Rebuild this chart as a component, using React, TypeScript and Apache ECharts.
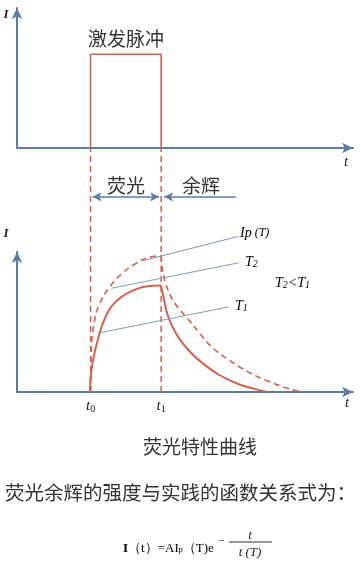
import React, { useEffect, useRef } from 'react';
import * as echarts from 'echarts';

const T0 = 21.9;
const T1 = 42.9;
const pulseX = [T0, T0, T1, T1];
const pulseY = [0, 67, 67, 0];
const solidRiseX = [21.7, 22.1, 23.1, 24.6, 26.0, 28.0, 31.0, 34.9, 38.8, 42.9];
const solidRiseY = [0, 14.2, 28.2, 42.2, 51.7, 60.8, 67.8, 72.9, 75.5, 76.0];
const solidDecayX = [42.9, 43.2, 43.8, 44.7, 46.2, 48.2, 51.2, 55.0, 60.0, 66.0, 71.9, 74.6];
const solidDecayY = [76, 72, 65.7, 56, 47, 38.5, 29.5, 21, 12.5, 5.5, 1.5, 0];
const dashRiseX = [21.9, 22.0, 22.2, 23.1, 24.6, 27.5, 31.0, 34.9, 38.8, 42.9];
const dashRiseY = [0, 20, 35, 51.5, 63.1, 74.8, 84.1, 91.1, 95.8, 97.5];
const dashDecayX = [42.9, 43.3, 44.2, 45.8, 48.0, 50.6, 54.0, 58.0, 63.0, 69.0, 75.0, 80.0, 84.6];
const dashDecayY = [97.5, 88, 78, 68, 60, 53, 43, 32, 23, 14, 7.5, 3, 0];
// leader lines [x1, y1, x2, y2] in bottom-chart data units
const leaderIp = [37.3, 93.7, 66.0, 111.2];
const leaderT2 = [28.1, 74.1, 66.0, 92.3];
const leaderT1 = [24.0, 42.0, 63.0, 60.8];
// arrows in guide-grid units
const arrowY = 0.8;
const fluoArrow = [22.5, 42.3];
const afterArrow = [65.1, 43.8];
const tickLabels = ['0', '1'];

const zip = (xs: number[], ys: number[]) => xs.map((x, i) => [x, ys[i]]);

const RED = '#d0634f';
const AXIS = '#5b7ca3';
const LEAD = '#8199b6';
const serif = "'Liberation Serif', 'DejaVu Serif', serif";
const cjk = "'Noto Sans CJK SC', sans-serif";

export default function App() {
  const ref = useRef<HTMLDivElement>(null);
  useEffect(() => {
    if (!ref.current) return;
    const chart = echarts.init(ref.current, undefined, { renderer: 'svg' });
    const axisLine = {
      show: true,
      symbol: ['none', 'arrow'],
      symbolSize: [8, 11],
      lineStyle: { color: AXIS, width: 2 },
    };
    const plainX = (gi: number, extra: any = {}) => ({
      type: 'value', gridIndex: gi, min: 0, max: 100,
      axisLine, axisTick: { show: false }, axisLabel: { show: false },
      splitLine: { show: false }, ...extra,
    });
    const plainY = (gi: number, max = 100) => ({
      type: 'value', gridIndex: gi, min: 0, max,
      axisLine, axisTick: { show: false }, axisLabel: { show: false },
      splitLine: { show: false },
    });
    const hidden = (gi: number, max: number) => ({
      type: 'value', gridIndex: gi, min: 0, max, show: false,
    });
    const line = (gi: number, data: number[][], color: string, width: number, dashed = false, extra: any = {}) => ({
      type: 'line', xAxisIndex: gi, yAxisIndex: gi, data,
      showSymbol: false, silent: true, clip: false,
      lineStyle: { color, width, type: dashed ? [6, 4] : 'solid' },
      ...extra,
    });
    const arrowSeries = (from: number, to: number, symbol: string[]) => ({
      type: 'line', xAxisIndex: 2, yAxisIndex: 2, data: [], silent: true,
      markLine: {
        silent: true, symbol, symbolSize: [7, 9],
        label: { show: false },
        lineStyle: { color: AXIS, width: 1.5, type: 'solid' },
        emphasis: { disabled: true },
        data: [[{ coord: [from, arrowY] }, { coord: [to, arrowY] }]],
      },
    });
    const txt = (x: number, y: number, text: string, font: string, align = 'center', fill = '#333') => ({
      type: 'text', x, y, silent: true,
      style: { text, font, fill, textAlign: align, textVerticalAlign: 'middle' },
    });
    const rich = {
      a: { fontFamily: serif, fontStyle: 'italic', fontSize: 14, color: '#222' },
      b: { fontFamily: serif, fontStyle: 'italic', fontSize: 10, color: '#222', padding: [5, 0, 0, 0] },
      c: { fontFamily: serif, fontStyle: 'italic', fontSize: 12, color: '#222' },
      r: { fontFamily: serif, fontSize: 13, color: '#222' },
      B: { fontFamily: serif, fontSize: 13, fontWeight: 'bold', color: '#222' },
      s: { fontFamily: serif, fontSize: 8, color: '#222', padding: [5, 0, 0, 0] },
    };
    const rtxt = (x: number, y: number, text: string, align = 'left') => ({
      type: 'text', x, y, silent: true,
      style: { text, rich, textAlign: align, textVerticalAlign: 'middle' },
    });
    const smooth = { smooth: 0.4 };

    chart.setOption({
      animation: false,
      grid: [
        { left: 17, right: 8, top: 8, height: 140 },
        { left: 17, right: 8, top: 252, height: 140 },
        { left: 17, right: 8, top: 148, height: 244 },
      ],
      xAxis: [
        plainX(0),
        plainX(1, {
          axisLabel: {
            show: true,
            customValues: [T0, T1],
            margin: 4,
            formatter: (v: number) => `{t|t}{s|${Math.abs(v - T0) < 0.01 ? tickLabels[0] : tickLabels[1]}}`,
            rich: {
              t: { fontFamily: serif, fontStyle: 'italic', fontSize: 15, color: '#222' },
              s: { fontFamily: serif, fontSize: 10, color: '#222', padding: [7, 0, 0, 0] },
            },
          },
        }),
        hidden(2, 100),
      ],
      yAxis: [plainY(0), plainY(1), hidden(2, 1)],
      series: [
        line(0, zip(pulseX, pulseY), RED, 1.6),
        line(2, [[T0, 0], [T0, 1]], RED, 1.5, true),
        line(2, [[T1, 0], [T1, 1]], RED, 1.5, true),
        line(1, zip(solidRiseX, solidRiseY), RED, 2, false, smooth),
        line(1, zip(solidDecayX, solidDecayY), RED, 2, false, smooth),
        line(1, zip(dashRiseX, dashRiseY), RED, 1.6, true, smooth),
        line(1, zip(dashDecayX, dashDecayY), RED, 1.6, true, smooth),
        line(1, [[leaderIp[0], leaderIp[1]], [leaderIp[2], leaderIp[3]]], LEAD, 1),
        line(1, [[leaderT2[0], leaderT2[1]], [leaderT2[2], leaderT2[3]]], LEAD, 1),
        line(1, [[leaderT1[0], leaderT1[1]], [leaderT1[2], leaderT1[3]]], LEAD, 1),
        arrowSeries(fluoArrow[0], fluoArrow[1], ['arrow', 'arrow']),
        arrowSeries(afterArrow[0], afterArrow[1], ['none', 'arrow']),
      ],
      graphic: [
        txt(6, 13, 'I', `italic bold 13px ${serif}`, 'center', '#222'),
        txt(346, 161, 't', `italic 15px ${serif}`, 'center', '#222'),
        txt(126, 37, '激发脉冲', `19px ${cjk}`),
        txt(126, 184, '荧光', `19px ${cjk}`),
        txt(201, 184, '余辉', `19px ${cjk}`),
        txt(6, 232, 'I', `italic bold 13px ${serif}`, 'center', '#222'),
        txt(347, 402, 't', `italic 15px ${serif}`, 'center', '#222'),
        rtxt(240, 232, '{a|Ip}{c| (T)}'),
        rtxt(245, 261, '{a|T}{b|2}'),
        rtxt(275, 282, '{a|T}{b|2}{a|<T}{b|1}'),
        rtxt(235, 305, '{a|T}{b|1}'),
        txt(200, 445, '荧光特性曲线', `19px ${cjk}`),
        txt(5, 491, '荧光余辉的强度与实践的函数关系式为：', `19.5px ${cjk}`, 'left'),
        rtxt(123, 547, '{B|I}{r|（t）=AI}{s|p}{r|（T)e}'),
        txt(221, 540, '−', `11px ${serif}`, 'center', '#222'),
        txt(250, 534, 't', `italic 13px ${serif}`, 'center', '#222'),
        { type: 'line', silent: true, shape: { x1: 229, y1: 542, x2: 272, y2: 542 }, style: { stroke: '#333', lineWidth: 1 } },
        txt(250, 551, 't (T)', `italic 13px ${serif}`, 'center', '#222'),
      ],
    });
    return () => chart.dispose();
  }, []);
  return <div ref={ref} style={{ position: 'fixed', left: 0, top: 0, width: 361, height: 568 }} />;
}
